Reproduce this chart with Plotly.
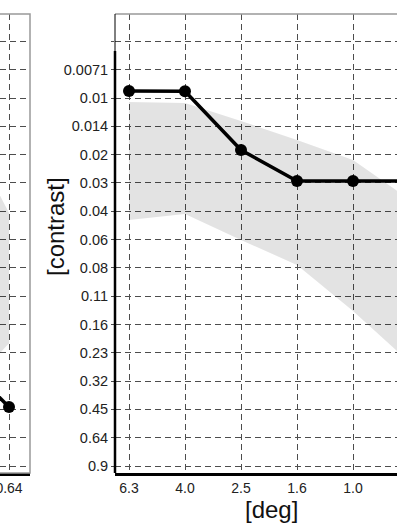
import plotly.graph_objects as go

# ---- data ----
x_labels = ["6.3", "4.0", "2.5", "1.6", "1.0", "0.64"]

# main panel
main_line = [0.00911, 0.00915, 0.01877, 0.02743, 0.02743, 0.02743]
main_band_upper = [0.01042, 0.01055, 0.01315, 0.0166, 0.0212, 0.0342]
main_band_lower = [0.0442, 0.0411, 0.0565, 0.0767, 0.1348, 0.252]

# left (partially visible) panel
left_x = ["1.0", "0.64"]
left_line = [0.22, 0.437]
left_band_upper = [0.0106, 0.0406]
left_band_lower = [0.42, 0.200]

y_tickvals = [0.9, 0.636, 0.45, 0.318, 0.225, 0.159, 0.1125, 0.0795, 0.05625,
              0.0398, 0.0281, 0.0199, 0.01406, 0.00994, 0.00703, 0.00497]
y_ticktext = ["0.9", "0.64", "0.45", "0.32", "0.23", "0.16", "0.11", "0.08", "0.06",
              "0.04", "0.03", "0.02", "0.014", "0.01", "0.0071", ""]

W, H = 397, 526
T, B = 14, 53
PH = H - T - B
BAND = "rgba(0,0,0,0.11)"
GRID = "#4d4d4d"
FONT = "Liberation Sans, Arial, Helvetica, sans-serif"

fig = go.Figure()

def add_panel(xs, up, lo, line, xa, ya):
    fig.add_trace(go.Scatter(x=xs + xs[::-1], y=up + lo[::-1], fill="toself",
                             fillcolor=BAND, line=dict(width=0), mode="lines",
                             hoverinfo="skip", showlegend=False, xaxis=xa, yaxis=ya))
    fig.add_trace(go.Scatter(x=xs, y=line, mode="lines+markers",
                             line=dict(color="black", width=3.5),
                             marker=dict(color="black", size=12),
                             showlegend=False, xaxis=xa, yaxis=ya))

add_panel(left_x, left_band_upper, left_band_lower, left_line, "x", "y")
add_panel(x_labels, main_band_upper, main_band_lower, main_line, "x2", "y2")

yrange = [-0.00853, -2.45]
common_x = dict(type="category", categoryorder="array", categoryarray=x_labels,
                showgrid=True, gridcolor=GRID, griddash="6px,4px", gridwidth=1,
                showline=True, linecolor="black", linewidth=2.5,
                ticks="", tickfont=dict(family=FONT, size=14, color="#222"),
                zeroline=False, automargin=False, fixedrange=True)
common_y = dict(type="log", range=yrange, tickvals=y_tickvals, ticktext=y_ticktext,
                showgrid=True, gridcolor=GRID, griddash="6px,4px", gridwidth=1,
                showline=False, zeroline=False, automargin=False,
                ticklen=3, tickcolor=GRID,
                tickfont=dict(family=FONT, size=14.5, color="#222"), fixedrange=True)

x0m = 115 / W
fig.update_layout(
    width=W, height=H,
    margin=dict(l=0, r=0, t=T, b=B, pad=0),
    plot_bgcolor="white", paper_bgcolor="white",
    xaxis=dict(domain=[0, 30 / W], range=[5 - 9 / 56, 5 + 21 / 56], anchor="y", **common_x),
    yaxis=dict(domain=[0, 1], anchor="x", showticklabels=False, ticks="", **common_y),
    xaxis2=dict(domain=[x0m, 1], range=[-14 / 56, 268 / 56], anchor="y2", **common_x),
    yaxis2=dict(domain=[0, 1], anchor="x2", ticks="outside", **common_y),
    font=dict(family=FONT),
    hovermode=False,
)

shapes = []
# frames (grey top/right)
shapes.append(dict(type="rect", xref="paper", yref="paper", x0=-0.2, x1=30 / W, y0=0, y1=1,
                   line=dict(color="#999999", width=1.5), layer="above"))
shapes.append(dict(type="line", xref="paper", yref="paper", x0=x0m, x1=1.2, y0=1, y1=1,
                   line=dict(color="#999999", width=1.5), layer="above"))
# left spine: thin full height, thick lower part
shapes.append(dict(type="line", xref="paper", yref="paper", x0=x0m, x1=x0m, y0=0, y1=1,
                   line=dict(color="black", width=1), layer="above"))
shapes.append(dict(type="line", xref="paper", yref="paper", x0=x0m, x1=x0m, y0=0, y1=(H - B - 51) / PH,
                   line=dict(color="black", width=2.5), layer="above"))
fig.update_layout(shapes=shapes)

fig.add_annotation(text="[contrast]", xref="paper", yref="paper",
                   x=55 / W, y=(H - B - 227) / PH, textangle=-90, showarrow=False,
                   font=dict(family=FONT, size=24, color="#111"), xanchor="center", yanchor="middle")
fig.add_annotation(text="[deg]", xref="paper", yref="paper",
                   x=271 / W, y=(H - B - 509) / PH, showarrow=False,
                   font=dict(family=FONT, size=24, color="#111"), xanchor="center", yanchor="middle")

fig.write_html("out.html", config={"displayModeBar": False},
               post_script="document.body.style.margin='0px';")
